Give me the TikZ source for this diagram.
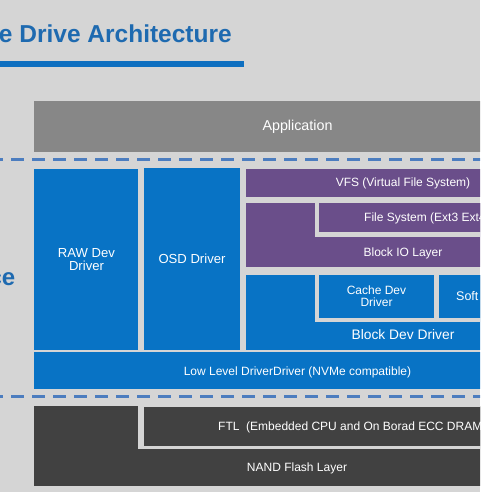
\documentclass[tikz,border=0pt]{standalone}
\usepackage{fontspec}
\setmainfont{Liberation Sans}
\usetikzlibrary{fit}
\definecolor{bg}{HTML}{D5D5D5}
\definecolor{appgray}{HTML}{878787}
\definecolor{drvblue}{HTML}{0873C5}
\definecolor{kpurple}{HTML}{6A4E8A}
\definecolor{darkgray}{HTML}{414141}
\definecolor{dashblue}{HTML}{4C7DBF}
\definecolor{titleblue}{HTML}{1E6AB0}
\definecolor{lineblue}{HTML}{0E6FC0}
\newcommand\fsz[1]{\fontsize{#1}{#1}\selectfont}
\begin{document}
\begin{tikzpicture}[x=1pt,y=-1pt,
  box/.style={draw=none, inner sep=0pt, outer sep=0pt},
  lbl/.style={text=white, inner sep=0pt, anchor=base},
  sep/.style={draw=dashblue, line width=3.5pt, dash pattern=on 13pt off 8pt}]
\useasboundingbox (0,0) rectangle (480,492);
\fill[bg] (0,0) rectangle (480,492);
\begin{scope}
\clip (0,0) rectangle (480,492);
% title
\node[anchor=base east, inner sep=0pt, text=titleblue, font=\bfseries\fsz{24.5}] (title) at (232,43) {e Drive Architecture};
\node[box, fill=lineblue, fit={(-2,61) (244,67)}] (uline) {};
\node[anchor=base east, inner sep=0pt, text=titleblue, font=\bfseries\fsz{24}] (side) at (15.5,285) {ce};
% application
\node[box, fill=appgray, fit={(34,101) (560,152)}] (app) {};
\node[lbl, font=\fsz{14.3}] (apptxt) at (297.5,131) {Application};
% separators
\coordinate (s1a) at (-10,159.5);
\coordinate (s1b) at (490,159.5);
\draw[sep] (s1a) -- (s1b);
\coordinate (s2a) at (-10,396.7);
\coordinate (s2b) at (490,396.7);
\draw[sep] (s2a) -- (s2b);
% RAW and OSD
\node[box, fill=drvblue, fit={(34,169) (138,350)}] (raw) {};
\node[lbl, font=\fsz{13.1}] (rawtxt1) at (86.5,257) {RAW Dev};
\node[lbl, font=\fsz{13.1}] (rawtxt2) at (86.5,270) {Driver};
\node[box, fill=drvblue, fit={(144,168) (240,350)}] (osd) {};
\node[lbl, font=\fsz{13.1}] (osdtxt) at (192,263.3) {OSD Driver};
% purple kernel layers
\node[box, fill=kpurple, fit={(246,169) (560,197)}] (vfs) {};
\node[lbl, font=\fsz{12}] (vfstxt) at (403,186.5) {VFS (Virtual File System)};
\node[box, fill=kpurple, fit={(246,203) (560,267)}] (bio) {};
\node[box, fill=bg, fit={(315,203) (560,237)}] (fsgap) {};
\node[box, fill=kpurple, fit={(319,203) (560,232)}] (fs) {};
\node[lbl, anchor=base west, font=\fsz{12}] (fstxt) at (364,221.7) {File System (Ext3 Ext4};
\node[lbl, font=\fsz{12}] (biotxt) at (403,256.7) {Block IO Layer};
% block dev driver
\node[box, fill=drvblue, fit={(246,275) (560,350)}] (bdd) {};
\node[box, fill=bg, fit={(315,275) (560,321.5)}] (cgap) {};
\node[box, fill=drvblue, fit={(319,275) (434,318)}] (cache) {};
\node[box, fill=drvblue, fit={(438.5,275) (560,318)}] (soft) {};
\node[lbl, font=\fsz{12}] (cachetxt1) at (376.5,294.3) {Cache Dev};
\node[lbl, font=\fsz{12}] (cachetxt2) at (376.5,306) {Driver};
\node[lbl, anchor=base west, font=\fsz{12.5}] (softtxt) at (456,300.5) {Soft};
\node[lbl, font=\fsz{13.8}] (bddtxt) at (403,339) {Block Dev Driver};
% low level
\node[box, fill=drvblue, fit={(34,352) (560,389)}] (low) {};
\node[lbl, font=\fsz{12}] (lowtxt) at (297.5,375) {Low Level DriverDriver (NVMe compatible)};
% device
\node[box, fill=darkgray, fit={(34,406) (560,486)}] (nand) {};
\node[box, fill=bg, fit={(138,406) (560,449)}] (ftlgap) {};
\node[box, fill=darkgray, fit={(144,407) (560,445.5)}] (ftl) {};
\node[lbl, anchor=base west, font=\fsz{12}] (ftltxt) at (218,430.7) {FTL\ \ (Embedded CPU and On Borad ECC DRAM)};
\node[lbl, font=\fsz{12}] (nandtxt) at (297,471.7) {NAND Flash Layer};
\end{scope}
\end{tikzpicture}
\end{document}
